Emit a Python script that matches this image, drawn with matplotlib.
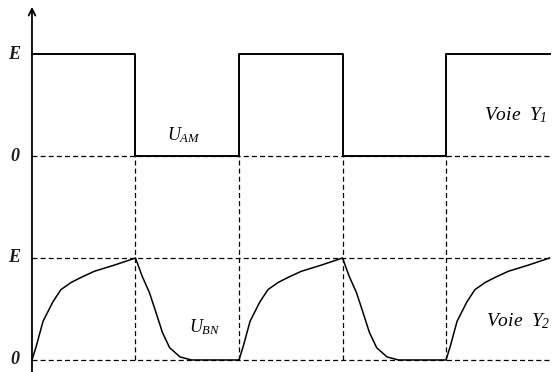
import matplotlib
matplotlib.use("Agg")
import matplotlib.pyplot as plt
import numpy as np

# time in half-periods, levels in units of E
square_t = [0, 1, 1, 2, 2, 3, 3, 4, 4, 5]
square_v = [1, 1, 0, 0, 1, 1, 0, 0, 1, 1]

# one charging half-period of U_BN
charge_t = [0.0, 0.04, 0.107, 0.202, 0.28, 0.378, 0.475, 0.603, 0.795, 1.0]
charge_v = [0.0, 0.13, 0.38, 0.57, 0.69, 0.76, 0.81, 0.87, 0.93, 1.0]

# one discharging half-period of U_BN
discharge_t = [0.0, 0.065, 0.135, 0.20, 0.26, 0.33, 0.43, 0.54, 1.0]
discharge_v = [1.0, 0.82, 0.66, 0.46, 0.27, 0.12, 0.03, 0.0, 0.0]

edges = [1, 2, 3, 4]
level_labels = ["E", "0", "E", "0"]

TOP = 2.0  # offset of channel Y1
fig = plt.figure(figsize=(5.52, 3.72), dpi=100)
ax = fig.add_axes([0, 0, 1, 1])
ax.set_xlim(-0.309, 5.024)
ax.set_ylim(-0.118, 3.53)
ax.axis("off")

plt.rcParams["mathtext.fontset"] = "custom"
plt.rcParams["mathtext.it"] = "Liberation Serif:italic"
plt.rcParams["mathtext.rm"] = "Liberation Serif:italic"

dash = dict(color="black", lw=0.9, linestyle=(0, (4, 2.5)))
xend = 5.1

# dashed reference levels
ax.plot([0, xend], [TOP, TOP], **dash)
ax.plot([0, xend], [1, 1], **dash)
ax.plot([0, xend], [0, 0], **dash)
for e in edges:
    ax.plot([e, e], [0, TOP], **dash)

# channel Y1 : square wave
ax.plot(square_t, np.array(square_v) + TOP, color="black", lw=1.4)

# channel Y2 : RC charge / discharge
ut, uv = [], []
for k in range(5):
    if k % 2 == 0:
        ut += [k + t for t in charge_t]
        uv += charge_v
    else:
        ut += [k + t for t in discharge_t]
        uv += discharge_v
ax.plot(ut, uv, color="black", lw=1.1)

# vertical axis with arrow
ax.annotate("", xy=(0, 3.49), xytext=(0, -0.2),
            arrowprops=dict(arrowstyle="->", color="black", lw=1.3,
                            mutation_scale=12))

font = dict(family="Liberation Serif", style="italic", weight="bold")
for y, lab in zip([TOP + 1, TOP, 1, 0], level_labels):
    ax.text(-0.17, y, lab, ha="center", va="center", fontsize=13,
            color="#1a1a1a", **font)

ax.text(1.47, 2.2, r"$U_{AM}$", fontsize=13, ha="center", va="center")
ax.text(1.67, 0.32, r"$U_{BN}$", fontsize=13, ha="center", va="center")
ax.text(4.98, 2.4, r"$Voie\ \ Y_1$", fontsize=14, ha="right", va="center")
ax.text(5.01, 0.38, r"$Voie\ \ Y_2$", fontsize=14, ha="right", va="center")

fig.savefig("out.png", dpi=100)
